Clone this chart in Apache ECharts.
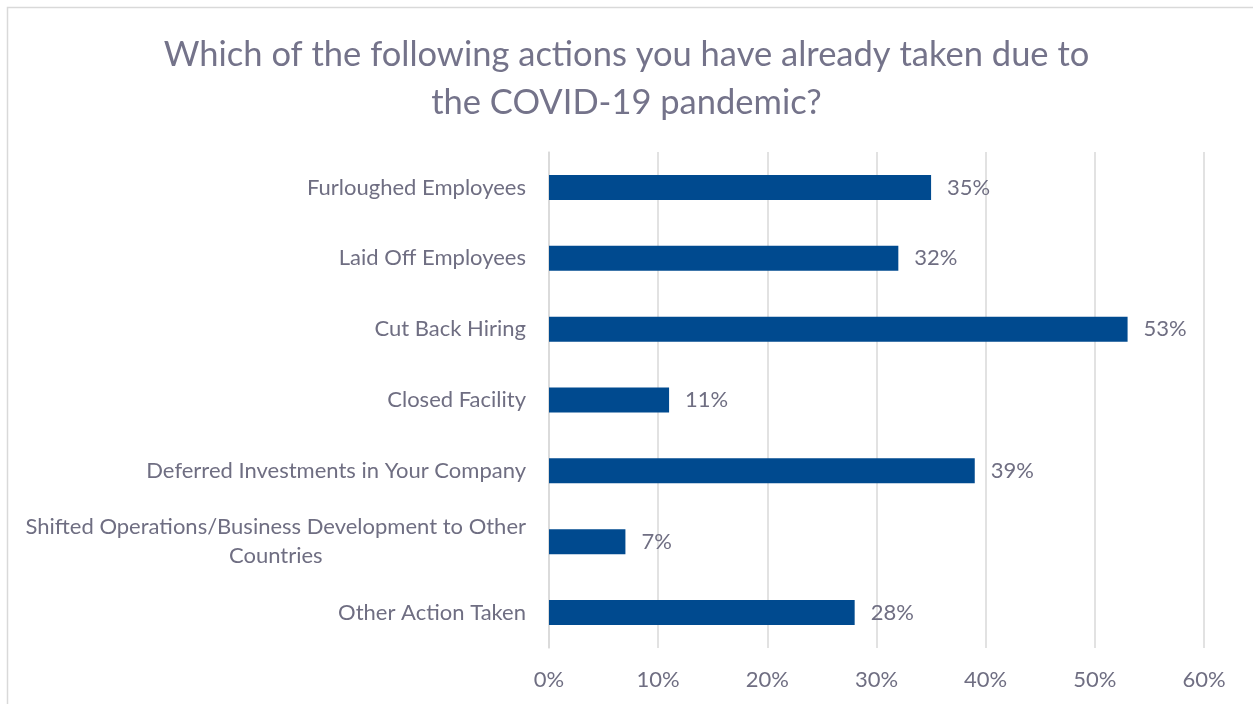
<!DOCTYPE html>
<html>
<head>
<meta charset="utf-8">
<style>
  html, body { margin: 0; padding: 0; background: #ffffff; }
  #chart { width: 1253px; height: 704px; }
</style>
<script src="https://cdn.jsdelivr.net/npm/echarts@6/dist/echarts.min.js"></script>
</head>
<body>
<div id="chart"></div>
<script>
// Survey answers, top row first
const categories = [
  'Furloughed Employees',
  'Laid Off Employees',
  'Cut Back Hiring',
  'Closed Facility',
  'Deferred Investments in Your Company',
  'Shifted Operations/Business Development to Other\nCountries',
  'Other Action Taken'
];
// Share of respondents, percent
const shares = [35, 32, 53, 11, 39, 7, 28];
const titleText = 'Which of the following actions you have already taken due to\nthe COVID-19 pandemic?';

const textColor = '#6f6e82';
const font = 'Lato, "Noto Sans", sans-serif';
const labelSize = 22;

const chart = echarts.init(document.getElementById('chart'), null, { renderer: 'canvas' });

chart.setOption({
  backgroundColor: '#ffffff',
  animation: false,
  graphic: [{
    type: 'rect',
    shape: { x: 7.5, y: 7.5, width: 1300, height: 800 },
    style: { fill: 'none', stroke: '#d9d9d9', lineWidth: 1.5 },
    silent: true,
    z: -1
  }],
  title: {
    text: titleText,
    left: 'center',
    top: 26,
    textStyle: {
      fontFamily: font,
      fontSize: 34.5,
      fontWeight: 'normal',
      color: '#74738a',
      lineHeight: 48
    }
  },
  grid: { left: 549, right: 49, top: 152, bottom: 56, containLabel: false },
  xAxis: {
    type: 'value',
    min: 0,
    max: 60,
    interval: 10,
    axisLine: { show: false },
    axisTick: { show: false },
    splitLine: { show: true, lineStyle: { color: '#d9d9d9', width: 1.5 } },
    axisLabel: {
      formatter: '{value}%',
      color: textColor,
      fontFamily: font,
      fontSize: labelSize,
      margin: 21
    }
  },
  yAxis: {
    type: 'category',
    inverse: true,
    data: categories,
    axisLine: { show: true, lineStyle: { color: '#d9d9d9', width: 1.5 } },
    axisTick: { show: false },
    axisLabel: {
      color: textColor,
      fontFamily: font,
      fontSize: labelSize,
      margin: 23,
      lineHeight: 29,
      formatter: function (v) {
        return v.split('\n').map(function (s) { return '{c|' + s + '}'; }).join('\n');
      },
      rich: {
        c: {
          align: 'center',
          color: textColor,
          fontFamily: font,
          fontSize: labelSize,
          lineHeight: 29
        }
      }
    }
  },
  series: [{
    type: 'bar',
    data: shares,
    barWidth: 25,
    itemStyle: { color: '#004a8f' },
    label: {
      show: true,
      position: 'right',
      distance: 16,
      formatter: '{c}%',
      color: textColor,
      fontFamily: font,
      fontSize: labelSize
    }
  }]
});
</script>
</body>
</html>
